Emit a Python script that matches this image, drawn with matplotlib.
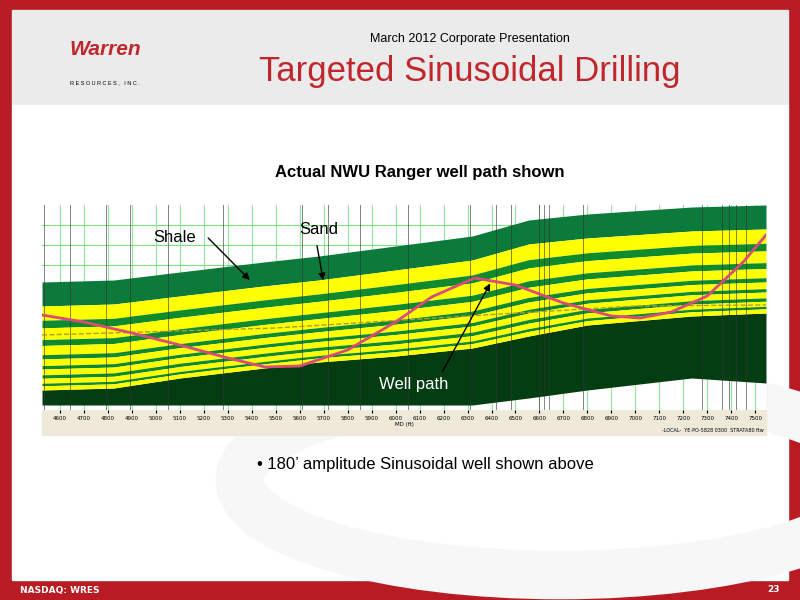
import matplotlib
matplotlib.use("Agg")
import matplotlib.pyplot as plt
from matplotlib.patches import Rectangle, Ellipse
import numpy as np

# Data (MD ft, depth in display units)
md_pts = [4525, 4825, 5100, 5450, 5680, 6000, 6320, 6555, 6800, 7235, 7545]
shale_top = [282, 280, 272, 262, 256, 246, 236, 220, 214, 207, 205]
dark_top = [390, 388, 378, 368, 362, 356, 348, 336, 325, 316, 313]
dark_bot = [405, 405, 405, 405, 405, 405, 405, 398, 390, 378, 383]
# horizons as fraction between shale base and dark top (yellow/green alternation)
horizon_frac = [0.0, 0.17, 0.26, 0.40, 0.47, 0.58, 0.63, 0.71, 0.75, 0.82, 0.86, 0.92, 0.95, 1.0]
shale_thick = 24
well_md = [4525, 4700, 4900, 5100, 5300, 5455, 5600, 5800, 6000, 6150, 6330, 6500, 6700, 6900, 7020, 7150, 7300, 7450, 7545]
well_y = [315, 322, 333, 345, 358, 367, 366, 350, 322, 297, 278, 285, 303, 316, 318, 312, 296, 262, 235]
dash_md = [4525, 5500, 6300, 7000, 7545]
dash_y = [335, 328, 316, 306, 305]
ticks = list(range(4600, 7600, 100))
dark_lines = [4535, 4640, 4790, 4890, 5050, 5280, 5610, 5720, 5850, 6050, 6310, 6420, 6480, 6600, 6620, 6640, 6780, 7280, 7360, 7390, 7420, 7460]

fig = plt.figure(figsize=(8, 6), dpi=100)
bg = fig.add_axes([0, 0, 1, 1])
bg.set_xlim(0, 800); bg.set_ylim(600, 0); bg.axis("off")
bg.add_patch(Rectangle((0, 0), 800, 600, color="#b81c22"))
bg.add_patch(Rectangle((12, 10), 776, 95, color="#ebebeb"))
bg.add_patch(Rectangle((12, 105), 776, 475, color="white"))
bg.add_patch(Ellipse((560, 480), 640, 190, fill=False, lw=35, ec="#f7f7f7"))
bg.add_patch(Rectangle((42, 410), 724, 25, color="#efe9da"))
bg.text(470, 42, "March 2012 Corporate Presentation", ha="center", fontsize=9, family="Liberation Sans")
bg.text(470, 72, "Targeted Sinusoidal Drilling", ha="center", va="center", fontsize=25, color="#c0272d", family="Liberation Sans")
bg.text(105, 55, "Warren", ha="center", fontsize=15, color="#c0272d", style="italic", weight="bold", family="Liberation Sans")
bg.text(105, 84, "R E S O U R C E S ,   I N C .", ha="center", fontsize=4, family="Liberation Sans")
bg.text(420, 172, "Actual NWU Ranger well path shown", ha="center", va="center", fontsize=12, weight="bold", family="Liberation Sans")
bg.text(425, 465, "• 180’ amplitude Sinusoidal well shown above", ha="center", va="center", fontsize=12, family="Liberation Sans")
bg.text(20, 590, "NASDAQ: WRES", va="center", fontsize=6.5, color="white", weight="bold")
bg.text(780, 590, "23", va="center", ha="right", fontsize=6.5, color="white", weight="bold")
bg.text(764, 430, "-LOCAL-  YE-PO-5828 0300  STRATA80 ftw", ha="right", va="center", fontsize=3.5)

ax = fig.add_axes([42/800, 1-410/600, 724/800, 205/600])
ax.set_xlim(4525, 7545); ax.set_ylim(410, 205)
md = np.array(md_pts, float)
st = np.array(shale_top, float); dt = np.array(dark_top, float); db = np.array(dark_bot, float)
sb = st + shale_thick
ax.fill_between(md, st, sb, color="#0b7a3a", lw=0)
ax.fill_between(md, dt, db, color="#043d12", lw=0)
for i in range(len(horizon_frac)-1):
    a = sb + (dt - sb)*horizon_frac[i]; b = sb + (dt - sb)*horizon_frac[i+1]
    ax.fill_between(md, a, b, color="#ffff00" if i % 2 == 0 else "#0f8a2c", lw=0)
for t in ticks:
    ax.axvline(t, color="#7fe07f", lw=0.8, zorder=0.5, alpha=0.8)
for t in dark_lines:
    ax.axvline(t, color="#333333", lw=0.7, alpha=0.6)
for yy in [225, 245, 265]:
    ax.axhline(yy, color="#7fe07f", lw=0.8, zorder=0.2)
ax.plot(dash_md, dash_y, color="#b59a2a", ls="--", lw=1)
ax.plot(well_md, well_y, color="#d94c7a", lw=2)
ax.set_xticks(ticks)
ax.set_xticklabels([str(t) for t in ticks], fontsize=4)
ax.set_yticks([])
ax.tick_params(axis="x", length=2, pad=2)
ax.set_xlabel("MD (ft)", fontsize=4, labelpad=1)
for s in ax.spines.values():
    s.set_visible(False)
ax.text(4990, 238, "Shale", fontsize=12, va="center", family="Liberation Sans")
ax.text(5600, 230, "Sand", fontsize=12, va="center", family="Liberation Sans")
ax.text(5930, 385, "Well path", fontsize=12, va="center", color="white", family="Liberation Sans")
ax.annotate("", xy=(5400, 282), xytext=(5210, 236), arrowprops=dict(arrowstyle="-|>", color="black", lw=1))
ax.annotate("", xy=(5700, 283), xytext=(5670, 243), arrowprops=dict(arrowstyle="-|>", color="black", lw=1))
ax.annotate("", xy=(6400, 281), xytext=(6190, 374), arrowprops=dict(arrowstyle="-|>", color="black", lw=1))
fig.savefig("out.png", dpi=100)
